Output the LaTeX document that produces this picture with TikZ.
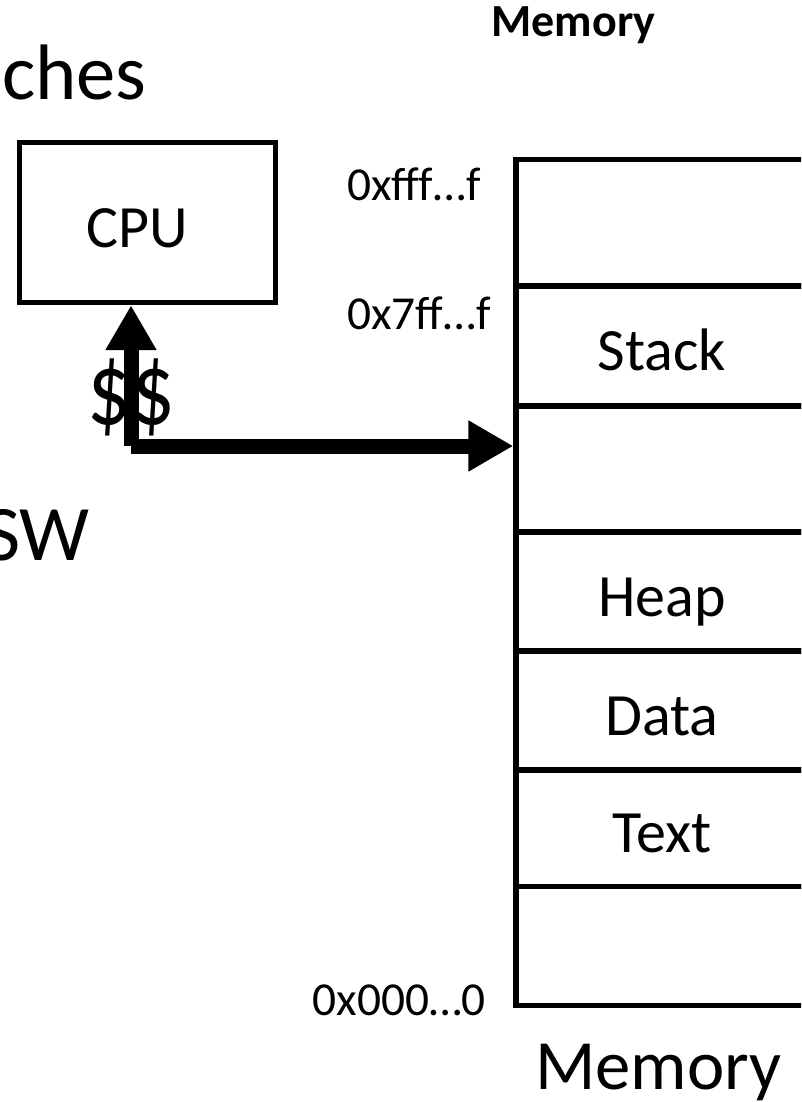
\documentclass[tikz,border=0pt]{standalone}
\usepackage{fontspec}
\setmainfont{Carlito}
\usetikzlibrary{arrows.meta}
\begin{document}
\begin{tikzpicture}[x=0.75pt,y=-0.75pt,
  box/.style={draw, line width=4pt, inner sep=0pt, text height=36.9pt, text depth=0pt,
    font=\fontsize{45}{54}\selectfont},
  seg/.style={box, minimum width=219pt},
  addr/.style={font=\fontsize{35.5}{42}\selectfont, inner sep=0pt},
  big/.style={font=\fontsize{59}{70}\selectfont, inner sep=0pt},
  bus/.style={line width=11.25pt, -{Triangle[length=33.75pt, width=36pt]}}]
\useasboundingbox (0,0) rectangle (801,1102);
\clip (0,0) rectangle (801,1102);

% title fragments on the left
\node[big, anchor=base east] (caches) at (147,100) {ches};
\node[big, anchor=base east] (hwsw) at (90,560) {SW};

% processor
\node[box, minimum width=192pt, minimum height=120pt] (cpu) at (147.5,222.5) {CPU\hspace*{15pt}};

% memory layout, top to bottom
\node[seg, minimum height=94.875pt] (top)   at (662,222.75) {};
\node[seg, minimum height=90pt]     (stack) at (662,346)    {Stack};
\node[seg, minimum height=94.5pt]   (gap)   at (662,469)    {};
\node[seg, minimum height=89.25pt]  (heap)  at (662,591.5)  {Heap};
\node[seg, minimum height=89.25pt]  (data)  at (662,710.5)  {Data};
\node[seg, minimum height=87.375pt] (text)  at (662,828.25) {Text};
\node[seg, minimum height=89.25pt]  (low)   at (662,946)    {};

% addresses
\node[addr, anchor=base west] (afff) at (347,200)  {0xfff…f};
\node[addr, anchor=base west] (a7ff) at (347,329)  {0x7ff…f};
\node[addr, anchor=base east] (a000) at (486,1015) {0x000…0};

% captions
\node[font=\bfseries\fontsize{34.5}{40}\selectfont, inner sep=0pt, anchor=base] (memtitle) at (573.5,37) {Memory};
\node[font=\fontsize{53}{64}\selectfont, inner sep=0pt, anchor=base] (memcap) at (658.5,1089) {Memory};

% cache between CPU and memory
\coordinate (corner) at (131,446);
\draw[bus] (corner) -- (corner |- cpu.south);
\draw[bus] (corner) -- (corner -| gap.west);
\node[font=\fontsize{60}{72}\selectfont, inner sep=0pt, anchor=base] (cache) at (131,424) {\scalebox{1.08}[1.3]{\$\$}};
\end{tikzpicture}
\end{document}
